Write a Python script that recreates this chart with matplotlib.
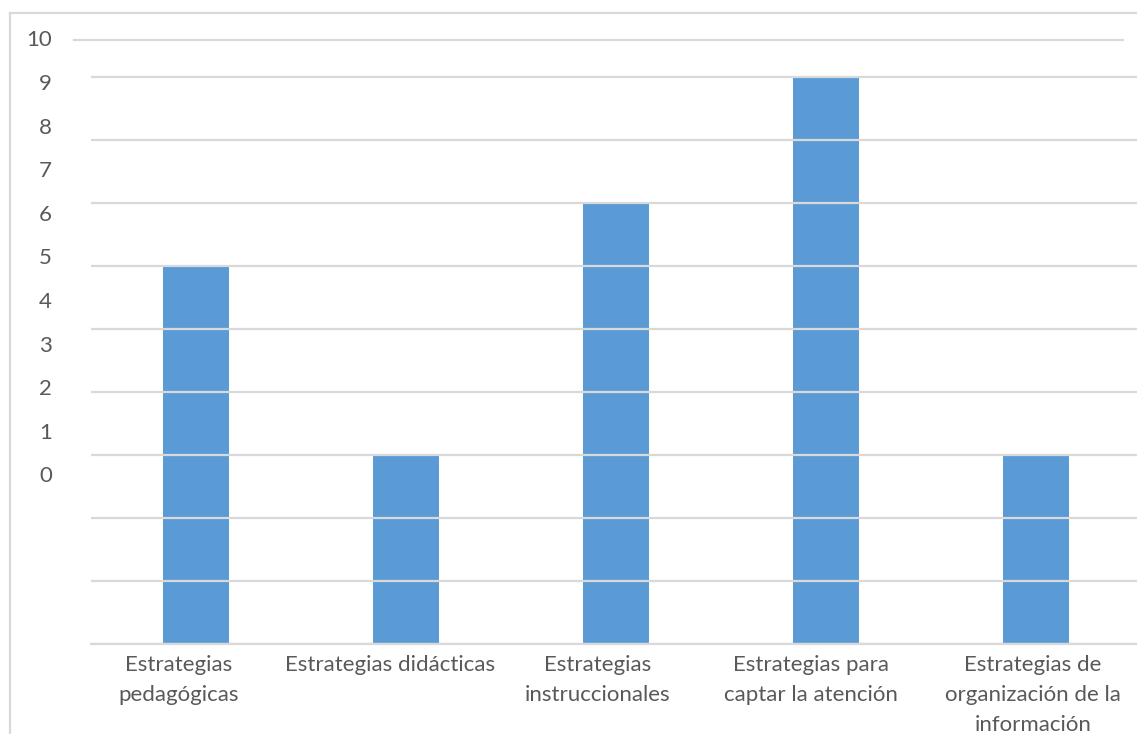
import matplotlib
matplotlib.use("Agg")
import matplotlib.pyplot as plt
from matplotlib.lines import Line2D
from matplotlib.transforms import ScaledTranslation

categories = ["Estrategias\npedagógicas", "Estrategias didácticas", "Estrategias\ninstruccionales",
              "Estrategias para\ncaptar la atención", "Estrategias de\norganización de la\ninformación"]
values = [6, 3, 7, 9, 3]
ytick_labels = ["0", "1", "2", "3", "4", "5", "6", "7", "8", "9", "10"]

plt.rcParams['font.family'] = ['Lato', 'DejaVu Sans']
TXT = '#595959'
GRID = '#d9d9d9'
BAR = '#5b9bd5'
FS = 16
label_dx_px = [-17, -16, -18, -15, -3]

W, H = 1137, 734
fig = plt.figure(figsize=(W / 100, H / 100), dpi=100)

def fx(px):
    return px / W

def fy(py):
    return 1 - py / H

left, right, bottom, top = 91, 1141, 644, 37
ax = fig.add_axes([fx(left), fy(bottom), fx(right) - fx(left), fy(top) - fy(bottom)])
unit = 63.0
ax.set_ylim(0, (bottom - top) / unit)
ax.set_xlim(-0.5, len(values) - 0.5)
ax.bar(range(len(values)), values, width=66 / 210, color=BAR, zorder=1)
ax.set_yticks(range(0, 10))
ax.set_xticks(range(len(categories)))
ax.set_xticklabels(categories, linespacing=1.62)
for s in ['top', 'right', 'left']:
    ax.spines[s].set_visible(False)
ax.spines['bottom'].set_color(GRID)
ax.spines['bottom'].set_linewidth(1.6)

# secondary (misaligned) value labels
ax2 = ax.twinx()
lab_unit = (474 - 37) / 10.0
ax2.set_ylim(-(bottom - 474) / lab_unit, 10.03)
ax2.set_yticks(range(len(ytick_labels)))
ax2.set_yticklabels(ytick_labels)
ax2.yaxis.set_ticks_position('left')
ax2.tick_params(axis='y', which='both', length=0, pad=28, labelsize=FS, colors=TXT)
for s in ax2.spines.values():
    s.set_visible(False)

ax.tick_params(axis='y', which='both', left=False, right=False, labelleft=False, labelright=False, length=0)
ax.tick_params(axis='x', length=0, pad=8, labelsize=FS, colors=TXT)
ax.yaxis.grid(True, color=GRID, linewidth=1.6)
for gl in ax.get_ygridlines():
    gl.set_zorder(3)

for lab, dx in zip(ax.get_xticklabels(), label_dx_px):
    lab.set_transform(lab.get_transform() + ScaledTranslation(dx / 100, 0, fig.dpi_scale_trans))

# border and top line
fig.add_artist(Line2D([fx(10), fx(10)], [fy(13), 0], color=GRID, linewidth=1.6))
fig.add_artist(Line2D([fx(10), 1], [fy(13), fy(13)], color=GRID, linewidth=1.6))
fig.add_artist(Line2D([fx(74), fx(1123)], [fy(40), fy(40)], color=GRID, linewidth=1.6))

fig.savefig("out.png", dpi=100, facecolor='white')
